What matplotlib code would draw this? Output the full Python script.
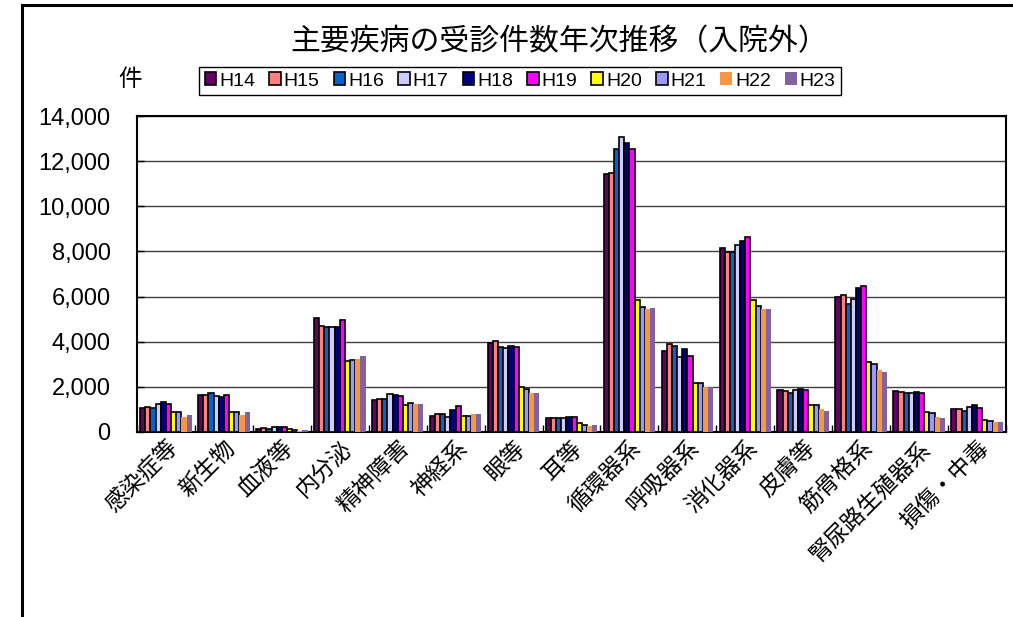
import numpy as np
import matplotlib
matplotlib.use("Agg")
import matplotlib.pyplot as plt
from matplotlib.lines import Line2D
from matplotlib.ticker import FuncFormatter, FixedLocator

plt.rcParams['font.family'] = ['Noto Sans CJK JP', 'DejaVu Sans']

categories = ['感染症等', '新生物', '血液等', '内分泌', '精神障害', '神経系', '眼等', '耳等',
              '循環器系', '呼吸器系', '消化器系', '皮膚等', '筋骨格系', '腎尿路生殖器系', '損傷・中毒']
years = ['H14', 'H15', 'H16', 'H17', 'H18', 'H19', 'H20', 'H21', 'H22', 'H23']

h14 = [1050, 1640, 150, 5050, 1400, 720, 3930, 620, 11450, 3590, 8150, 1850, 5970, 1820, 1000]
h15 = [1110, 1640, 170, 4680, 1440, 810, 4020, 620, 11480, 3910, 7970, 1810, 6090, 1780, 1000]
h16 = [1050, 1730, 150, 4650, 1470, 780, 3780, 620, 12560, 3820, 7970, 1750, 5660, 1750, 950]
h17 = [1240, 1610, 230, 4630, 1680, 680, 3710, 620, 13080, 3310, 8300, 1850, 5880, 1730, 1120]
h18 = [1310, 1560, 230, 4650, 1660, 990, 3800, 650, 12790, 3660, 8480, 1910, 6400, 1760, 1200]
h19 = [1220, 1620, 200, 4940, 1600, 1160, 3750, 680, 12560, 3360, 8620, 1880, 6480, 1730, 1080]
h20 = [870, 900, 130, 3150, 1180, 720, 1980, 390, 5850, 2180, 5850, 1190, 3110, 880, 530]
h21 = [870, 870, 100, 3180, 1270, 720, 1890, 310, 5560, 2180, 5600, 1190, 3010, 830, 500]
h22 = [650, 770, 50, 3220, 1240, 780, 1720, 280, 5450, 2000, 5450, 1040, 2740, 650, 430]
h23 = [740, 880, 100, 3380, 1240, 800, 1720, 320, 5510, 2000, 5450, 950, 2680, 640, 430]
series = [h14, h15, h16, h17, h18, h19, h20, h21, h22, h23]

colors = ['#660066', '#FF8080', '#0066CC', '#CCCCFF', '#000080',
          '#FF00FF', '#FFFF00', '#9999FF', '#F79646', '#8064A2']
edged = [True] * 8 + [False] * 2

fig = plt.figure(figsize=(10.13, 6.17), dpi=100)
ax = fig.add_axes([137 / 1013, 1 - 432 / 617, (1006 - 137) / 1013, (432 - 116) / 617])

x = np.arange(len(categories))
w = 0.089
for i, (vals, c, e) in enumerate(zip(series, colors, edged)):
    ax.bar(x + (i - 4.5) * w, vals, width=w, color=c,
           edgecolor='black' if e else 'none', linewidth=1.2 if e else 0,
           label=years[i], zorder=3)

ax.set_xlim(-0.5, len(categories) - 0.5)
ax.set_ylim(0, 14000)
ax.set_yticks(np.arange(0, 14001, 2000))
ax.yaxis.set_major_formatter(FuncFormatter(lambda v, p: f'{int(v):,}'))
ax.grid(axis='y', color='#404040', linewidth=1.0, zorder=0)

ax.set_xticks(x)
ax.set_xticklabels(categories, rotation=45, ha='right', va='top', rotation_mode='anchor', fontsize=16.5)
ax.tick_params(axis='x', length=0, pad=3)
ax.xaxis.set_minor_locator(FixedLocator(np.arange(-0.5, len(categories), 1)))
ax.tick_params(axis='x', which='minor', direction='in', length=5, width=1)
ax.tick_params(axis='y', direction='in', length=5, width=1, labelsize=17, pad=19)
for t in ax.get_yticklabels():
    t.set_fontfamily(['Liberation Sans', 'DejaVu Sans'])

for s in ax.spines.values():
    s.set_linewidth(1.5)
    s.set_color('black')

fig.text(559 / 1013, 1 - 42 / 617, '主要疾病の受診件数年次推移（入院外）', ha='center', va='center', fontsize=21.5)
fig.text(130 / 1013, 1 - 80 / 617, '件', ha='center', va='center', fontsize=17)

leg = fig.legend(loc='center', bbox_to_anchor=(520 / 1013, 1 - 81 / 617), ncol=10,
                 fancybox=False, edgecolor='black', framealpha=1,
                 handlelength=0.6, handleheight=0.6, handletextpad=0.15,
                 columnspacing=0.72, borderpad=0.3, fontsize=14)
leg.get_frame().set_linewidth(1.0)
for t in leg.get_texts():
    t.set_fontfamily(['Liberation Sans', 'DejaVu Sans'])

# outer chart border, cut off at right and bottom
fig.add_artist(Line2D([22 / 1013, 22 / 1013], [0, 1 - 5 / 617], color='black', linewidth=2.2,
                      transform=fig.transFigure))
fig.add_artist(Line2D([22 / 1013, 1], [1 - 5 / 617, 1 - 5 / 617], color='black', linewidth=2.2,
                      transform=fig.transFigure))

fig.savefig('out.png', dpi=100)
